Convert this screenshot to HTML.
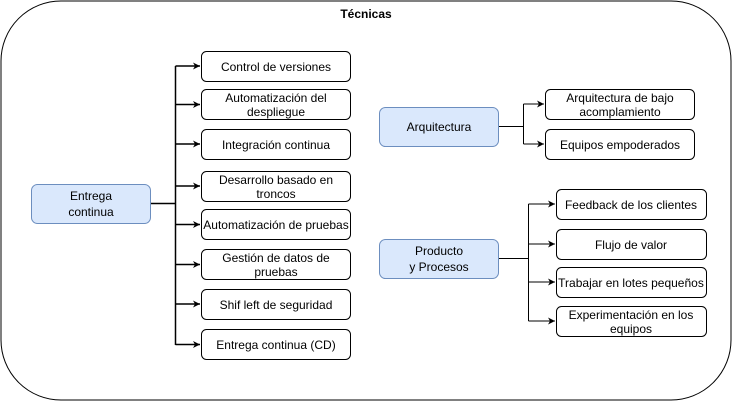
<!DOCTYPE html>
<html><head><meta charset="utf-8"><style>
body{margin:0;background:#fff;}
svg text{font-family:"Liberation Sans",sans-serif;font-size:12px;fill:#000;}
</style></head><body>
<svg width="732" height="402" xmlns="http://www.w3.org/2000/svg">
<defs><marker id="a" markerWidth="8" markerHeight="8" refX="7" refY="4" orient="auto" markerUnits="userSpaceOnUse"><path d="M0,0.5 L7,4 L0,7.5 L2,4 Z" fill="#000"/></marker></defs>
<rect x="1" y="1" width="730" height="399" rx="60" fill="#fff" stroke="#000" stroke-width="1"/>
<text x="366" y="18" text-anchor="middle" style="font-weight:bold;font-size:12px">Técnicas</text>
<g fill="none" stroke="#000" stroke-width="1.5">
<path d="M150,203.5 H175.5 M175.5,66 V345"/>
<path d="M175.5,66 H200" marker-end="url(#a)"/>
<path d="M175.5,104.5 H200" marker-end="url(#a)"/>
<path d="M175.5,144 H200" marker-end="url(#a)"/>
<path d="M175.5,186 H200" marker-end="url(#a)"/>
<path d="M175.5,224.5 H200" marker-end="url(#a)"/>
<path d="M175.5,264.5 H200" marker-end="url(#a)"/>
<path d="M175.5,304 H200" marker-end="url(#a)"/>
<path d="M175.5,344.5 H200" marker-end="url(#a)"/>
</g>
<g fill="none" stroke="#000" stroke-width="1">
<path d="M498,126.5 H523.5 M523.5,104 V144"/>
<path d="M523.5,104 H544" marker-end="url(#a)"/>
<path d="M523.5,144 H544" marker-end="url(#a)"/>
<path d="M498,258.5 H528.5 M528.5,204 V321"/>
<path d="M528.5,204 H555" marker-end="url(#a)"/>
<path d="M528.5,244 H555" marker-end="url(#a)"/>
<path d="M528.5,282 H555" marker-end="url(#a)"/>
<path d="M528.5,321 H555" marker-end="url(#a)"/>
</g>
<g fill="#dae8fc" stroke="#6c8ebf">
<rect x="31.5" y="184.5" width="119" height="39" rx="6"/>
<rect x="379.5" y="107.5" width="119" height="39" rx="6"/>
<rect x="379.5" y="239.5" width="119" height="39" rx="6"/>
</g>
<g fill="#fff" stroke="#000">
<rect x="201.5" y="51.5" width="149" height="30" rx="5"/>
<rect x="201.5" y="89.5" width="149" height="30" rx="5"/>
<rect x="201.5" y="129.5" width="149" height="30" rx="5"/>
<rect x="201.5" y="171.5" width="149" height="30" rx="5"/>
<rect x="201.5" y="209.5" width="149" height="30" rx="5"/>
<rect x="201.5" y="249.5" width="149" height="30" rx="5"/>
<rect x="201.5" y="289.5" width="149" height="30" rx="5"/>
<rect x="201.5" y="329.5" width="149" height="30" rx="5"/>
<rect x="545.5" y="89.5" width="149" height="30" rx="5"/>
<rect x="545.5" y="129.5" width="149" height="30" rx="5"/>
<rect x="556.5" y="189.5" width="150" height="30" rx="5"/>
<rect x="556.5" y="229.5" width="150" height="30" rx="5"/>
<rect x="556.5" y="267.5" width="150" height="30" rx="5"/>
<rect x="556.5" y="306.5" width="150" height="30" rx="5"/>
</g>
<g text-anchor="middle">
<text x="91" y="200">Entrega</text><text x="91" y="216">continua</text>
<text x="439" y="131">Arquitectura</text>
<text x="439" y="255">Producto</text><text x="439" y="271">y Procesos</text>
<text x="276" y="71">Control de versiones</text>
<text x="276" y="102">Automatización del</text><text x="276" y="116">despliegue</text>
<text x="276" y="149">Integración continua</text>
<text x="276" y="184">Desarrollo basado en</text><text x="276" y="198">troncos</text>
<text x="276" y="229">Automatización de pruebas</text>
<text x="276" y="262">Gestión de datos de</text><text x="276" y="276">pruebas</text>
<text x="276" y="309">Shif left de seguridad</text>
<text x="276" y="349">Entrega continua (CD)</text>
<text x="620" y="102">Arquitectura de bajo</text><text x="620" y="116">acomplamiento</text>
<text x="620" y="149">Equipos empoderados</text>
<text x="631" y="209">Feedback de los clientes</text>
<text x="631" y="249">Flujo de valor</text>
<text x="631" y="287">Trabajar en lotes pequeños</text>
<text x="631" y="319">Experimentación en los</text><text x="631" y="333">equipos</text>
</g>
</svg>
</body></html>
